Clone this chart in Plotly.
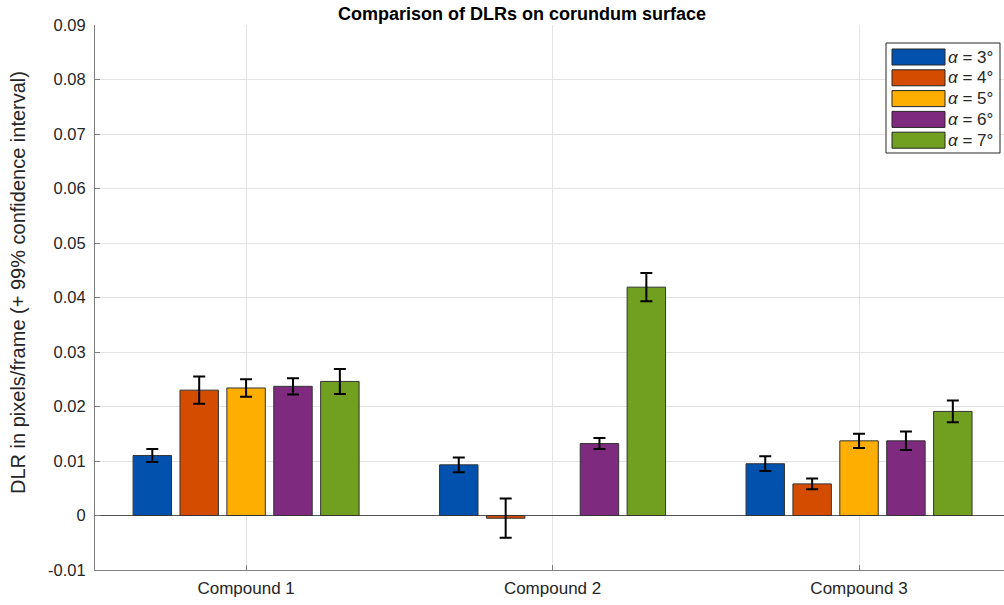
import plotly.graph_objects as go

categories = ["Compound 1", "Compound 2", "Compound 3"]
cat_pos = [1, 2, 3]
series_names = ["<i>α</i> = 3°", "<i>α</i> = 4°", "<i>α</i> = 5°", "<i>α</i> = 6°", "<i>α</i> = 7°"]
colors = ["#0151AD", "#D34C00", "#FDAE00", "#7E2A7E", "#71A021"]
y_tickvals = [-0.01, 0, 0.01, 0.02, 0.03, 0.04, 0.05, 0.06, 0.07, 0.08, 0.09]
y_ticktext = ["-0.01", "0", "0.01", "0.02", "0.03", "0.04", "0.05", "0.06", "0.07", "0.08", "0.09"]

dlr_a3 = [0.0110, 0.0093, 0.0095]
dlr_a4 = [0.0230, -0.0005, 0.0058]
dlr_a5 = [0.0234, None, 0.0137]
dlr_a6 = [0.0237, 0.0132, 0.0137]
dlr_a7 = [0.0246, 0.0419, 0.0191]

ci_a3 = [0.0012, 0.00135, 0.00135]
ci_a4 = [0.0025, 0.0036, 0.0010]
ci_a5 = [0.0016, None, 0.0013]
ci_a6 = [0.0015, 0.0010, 0.0017]
ci_a7 = [0.0023, 0.0026, 0.0020]

values = [dlr_a3, dlr_a4, dlr_a5, dlr_a6, dlr_a7]
errors = [ci_a3, ci_a4, ci_a5, ci_a6, ci_a7]

fig = go.Figure()
for name, col, v, e in zip(series_names, colors, values, errors):
    fig.add_trace(go.Bar(
        x=cat_pos, y=v, name=name,
        marker=dict(color=col, line=dict(color="#333333", width=1)),
        error_y=dict(type="data", array=e, visible=True, color="black", thickness=2, width=6),
        showlegend=False,
    ))

# plot area in pixels
PL, PR, PT, PB = 95, 1004, 25, 570
def px(x):
    return (x - PL) / (PR - PL)
def py(y):
    return (PB - y) / (PB - PT)

# Custom legend (wide swatches like the original)
L, T, R, B = 886, 43, 1000, 153
shapes = [dict(type="rect", xref="paper", yref="paper",
               x0=px(L), x1=px(R), y0=py(B), y1=py(T),
               line=dict(color="#262626", width=1), fillcolor="white", layer="above")]
annotations = []
for i, (name, col) in enumerate(zip(series_names, colors)):
    y0 = 49 + i * 20.8
    shapes.append(dict(type="rect", xref="paper", yref="paper",
                       x0=px(892), x1=px(945), y0=py(y0 + 16), y1=py(y0),
                       line=dict(color="#262626", width=1), fillcolor=col, layer="above"))
    annotations.append(dict(xref="paper", yref="paper", x=px(946), y=py(y0 + 8),
                            text=name, showarrow=False, xanchor="left", yanchor="middle",
                            font=dict(size=17, color="#262626")))

# y-axis title
annotations.append(dict(xref="paper", yref="paper", x=px(18), y=py(283),
                        text="DLR in pixels/frame (+ 99% confidence interval)",
                        textangle=-90, showarrow=False, xanchor="center", yanchor="middle",
                        font=dict(size=20, color="#262626")))

fig.update_layout(
    width=1004, height=605,
    margin=dict(l=PL, r=1004 - PR, t=PT, b=605 - PB),
    paper_bgcolor="white", plot_bgcolor="white",
    barmode="group", bargap=0.235, bargroupgap=0.18,
    font=dict(family="Liberation Sans, Arial, sans-serif", color="#262626"),
    title=dict(text="<b>Comparison of DLRs on corundum surface</b>",
               x=0.52, xanchor="center", y=1 - 14 / 605, yanchor="middle",
               font=dict(size=18, color="black")),
    xaxis=dict(range=[0.507, 3.473], tickvals=cat_pos, ticktext=categories,
               showgrid=True, gridcolor="#E3E3E3", gridwidth=1,
               showline=True, linecolor="#808080", linewidth=1,
               ticks="inside", ticklen=5, tickcolor="#808080", ticklabelstandoff=3,
               tickfont=dict(size=17, color="#262626"), zeroline=False),
    yaxis=dict(range=[-0.01, 0.09], tickvals=y_tickvals, ticktext=y_ticktext,
               showgrid=True, gridcolor="#E3E3E3", gridwidth=1,
               showline=True, linecolor="#808080", linewidth=1,
               ticks="inside", ticklen=5, tickcolor="#808080", ticklabelstandoff=5,
               zeroline=True, zerolinecolor="#555555", zerolinewidth=1,
               tickfont=dict(size=16.5, color="#262626")),
    shapes=shapes, annotations=annotations,
)

fig.write_html("out.html", config={"displayModeBar": False},
               post_script="document.body.style.margin='0';")
